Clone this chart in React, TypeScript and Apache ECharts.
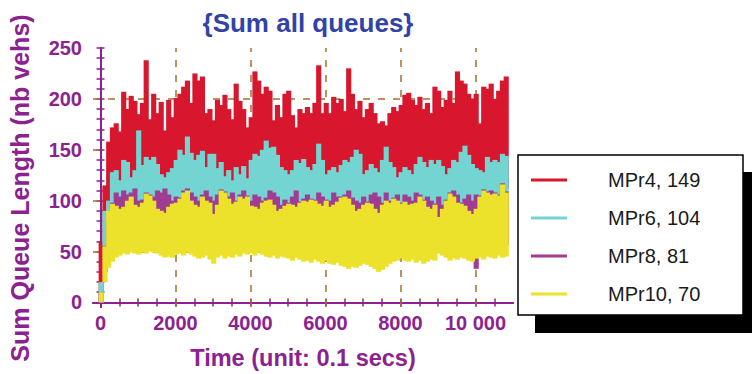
import React, { useEffect, useRef } from 'react';
import * as echarts from 'echarts';

// time step between consecutive readings (unit: 0.1 secs); each reading gives the band's top and bottom
const STEP = 100;

const seriesNames = ['MPr4, 149', 'MPr6, 104', 'MPr8, 81', 'MPr10, 70'];

const redHigh = [
  60, 115, 158, 172, 176, 168, 207, 190, 203, 198,
  185, 196, 238, 180, 205, 186, 197, 169, 199, 182,
  201, 205, 212, 218, 196, 225, 218, 222, 186, 190,
  179, 199, 194, 204, 190, 180, 215, 198, 190, 172,
  182, 227, 218, 205, 212, 208, 179, 194, 182, 205,
  208, 184, 172, 190, 186, 192, 186, 196, 233, 186,
  196, 186, 202, 196, 200, 188, 230, 205, 190, 198,
  182, 190, 196, 186, 176, 178, 174, 186, 192, 188,
  194, 204, 206, 199, 194, 202, 190, 196, 186, 212,
  208, 192, 199, 208, 196, 227, 218, 215, 205, 200,
  205, 176, 212, 210, 215, 200, 208, 218, 222,
];
const redLow = [
  0, 40, 80, 100, 105, 104, 108, 106, 104, 110,
  108, 106, 110, 109, 105, 112, 108, 104, 110, 106,
  110, 112, 108, 114, 112, 110, 113, 111, 106, 112,
  110, 106, 110, 108, 104, 106, 109, 105, 108, 104,
  110, 112, 110, 114, 116, 113, 112, 108, 106, 108,
  104, 106, 110, 108, 112, 106, 105, 110, 113, 108,
  104, 106, 108, 105, 110, 112, 110, 112, 115, 113,
  104, 106, 110, 108, 105, 112, 115, 110, 106, 104,
  105, 108, 106, 104, 110, 113, 110, 106, 112, 108,
  112, 108, 104, 106, 112, 110, 115, 116, 113, 108,
  106, 105, 104, 112, 110, 112, 110, 114, 112,
];
const cyanHigh = [
  20, 90, 100, 128, 130, 120, 140, 138, 123, 130,
  169, 135, 143, 140, 143, 136, 126, 123, 128, 132,
  140, 150, 145, 163, 147, 140, 145, 149, 133, 146,
  146, 132, 138, 124, 130, 120, 133, 126, 134, 122,
  140, 146, 144, 150, 159, 152, 153, 145, 133, 130,
  126, 130, 140, 137, 141, 133, 130, 136, 156, 140,
  126, 130, 133, 128, 135, 140, 138, 143, 150, 146,
  126, 130, 136, 132, 128, 140, 153, 138, 133, 123,
  128, 133, 130, 126, 136, 143, 138, 133, 140, 136,
  140, 134, 126, 132, 140, 138, 148, 154, 145, 136,
  132, 130, 128, 143, 138, 140, 138, 146, 144,
];
const cyanLow = [
  0, 55, 75, 88, 92, 90, 95, 93, 90, 96,
  92, 90, 95, 92, 89, 94, 91, 88, 93, 92,
  95, 97, 92, 98, 94, 91, 96, 93, 90, 94,
  92, 89, 93, 90, 88, 92, 94, 90, 92, 89,
  93, 96, 94, 97, 99, 95, 93, 92, 89, 91,
  88, 92, 94, 92, 95, 91, 89, 92, 96, 92,
  88, 91, 92, 90, 93, 95, 94, 96, 98, 95,
  89, 92, 93, 91, 88, 94, 97, 93, 91, 88,
  89, 92, 91, 88, 93, 96, 94, 91, 95, 92,
  95, 92, 88, 91, 94, 93, 97, 99, 95, 92,
  91, 89, 88, 95, 93, 94, 93, 97, 95,
];
const purpleHigh = [
  10, 55, 80, 98, 108, 104, 110, 106, 108, 112,
  100, 101, 108, 106, 104, 110, 108, 112, 106, 100,
  104, 103, 110, 112, 108, 104, 100, 106, 110, 104,
  100, 106, 111, 109, 104, 108, 100, 106, 110, 105,
  100, 106, 104, 100, 103, 110, 108, 104, 96, 101,
  98, 104, 110, 99, 102, 106, 102, 101, 108, 104,
  101, 100, 108, 104, 104, 106, 110, 103, 100, 98,
  104, 99, 106, 108, 104, 98, 108, 100, 103, 106,
  98, 106, 104, 100, 108, 106, 101, 104, 100, 97,
  104, 96, 101, 108, 110, 106, 98, 102, 106, 100,
  106, 105, 111, 109, 110, 108, 106, 117, 109,
];
const purpleLow = [
  0, 30, 50, 55, 58, 56, 60, 57, 55, 58,
  56, 59, 57, 55, 58, 56, 54, 52, 55, 53,
  50, 55, 57, 56, 54, 58, 56, 55, 57, 52,
  55, 57, 54, 56, 58, 55, 57, 54, 56, 58,
  55, 53, 56, 58, 55, 57, 54, 56, 55, 57,
  56, 54, 57, 55, 53, 56, 58, 55, 54, 56,
  52, 55, 53, 51, 54, 52, 55, 53, 54, 56,
  54, 52, 50, 53, 48, 55, 53, 56, 54, 57,
  55, 57, 54, 56, 55, 53, 56, 54, 55, 57,
  54, 56, 55, 53, 56, 54, 55, 53, 56, 54,
  33, 52, 55, 54, 56, 53, 55, 54, 56,
];
const yellowHigh = [
  10, 55, 90, 97, 95, 92, 94, 100, 104, 96,
  94, 98, 107, 105, 100, 92, 90, 88, 94, 97,
  98, 102, 108, 110, 100, 96, 94, 104, 100, 98,
  87, 96, 110, 108, 102, 97, 99, 104, 102, 104,
  95, 94, 92, 98, 100, 101, 96, 90, 92, 95,
  97, 96, 94, 98, 100, 99, 101, 100, 97, 95,
  100, 94, 96, 99, 103, 104, 102, 96, 90, 92,
  96, 98, 97, 92, 88, 96, 100, 98, 102, 100,
  97, 99, 96, 97, 98, 104, 100, 94, 92, 96,
  84, 92, 100, 107, 104, 98, 97, 95, 90, 87,
  92, 104, 110, 108, 106, 107, 105, 116, 108,
];
const yellowLow = [
  0, 20, 34, 40, 44, 46, 48, 47, 49, 48,
  47, 49, 48, 50, 49, 48, 46, 44, 45, 44,
  47, 48, 46, 49, 47, 45, 43, 44, 46, 42,
  38, 44, 46, 43, 45, 44, 47, 45, 48, 47,
  48, 46, 49, 47, 45, 44, 46, 43, 45, 44,
  43, 41, 44, 42, 40, 41, 39, 42, 40, 38,
  41, 38, 37, 39, 36, 35, 33, 35, 34, 36,
  38, 37, 35, 33, 30, 32, 35, 38, 40, 41,
  43, 41, 40, 42, 39, 41, 38, 40, 42, 41,
  48, 46, 44, 41, 43, 42, 44, 43, 41, 40,
  43, 44, 42, 45, 44, 43, 46, 44, 45,
];

const xLabelValues = [0, 2000, 4000, 6000, 8000, 10000];
const yLabelValues = [0, 50, 100, 150, 200, 250];
const xGridValues = [2000, 4000, 6000, 8000, 10000];
const yGridValues = [50, 100, 150, 200];
const xTickValues: number[] = [];
for (let v = 0; v <= 10500; v += 500) xTickValues.push(v);
const yTickValues: number[] = [];
for (let v = 0; v <= 250; v += 10) yTickValues.push(v);

const colors = ['#D8172F', '#74D4D2', '#A03C94', '#ECE12B'];
const PURPLE = '#8B2290';
const FONT = '"Liberation Sans", Arial, Helvetica, sans-serif';

export default function App() {
  const ref = useRef<HTMLDivElement>(null);
  useEffect(() => {
    const chart = echarts.init(ref.current!, null, { renderer: 'svg' });
    const highs = [redHigh, cyanHigh, purpleHigh, yellowHigh];
    const lows = [redLow, cyanLow, purpleLow, yellowLow];
    const axisLine = { show: true, lineStyle: { color: PURPLE, width: 2 } };
    const tickStyle = { color: PURPLE, width: 1.5 };
    const labelStyle = { color: PURPLE, fontSize: 20, fontWeight: 'bold', fontFamily: FONT };

    const bandSeries = seriesNames.map((name, k) => ({
      name,
      type: 'custom',
      xAxisIndex: 0,
      yAxisIndex: 0,
      z: 2 + k,
      clip: true,
      silent: true,
      itemStyle: { color: colors[k] },
      encode: { x: 0, y: [1, 2] },
      data: highs[k].map((h, i) => [i * STEP, lows[k][i], h]),
      renderItem: (params: any, api: any) => {
        const t = api.value(0);
        const lo = api.value(1);
        const hi = api.value(2);
        const p1 = api.coord([t - STEP / 2, hi]);
        const p2 = api.coord([t + STEP / 2, lo]);
        return {
          type: 'rect',
          shape: { x: p1[0], y: p1[1], width: p2[0] - p1[0] + 1.4, height: p2[1] - p1[1] },
          style: { fill: colors[k] },
        };
      },
    }));

    chart.setOption({
      animation: false,
      backgroundColor: '#ffffff',
      title: {
        text: '{Sum all queues}',
        left: 303,
        top: 5,
        textAlign: 'center',
        textStyle: { color: '#3142A8', fontSize: 26, fontWeight: 'bold', fontFamily: FONT },
      },
      grid: { left: 93, right: 239, top: 48, bottom: 67 },
      legend: {
        data: seriesNames,
        orient: 'vertical',
        left: 531,
        top: 170,
        padding: 0,
        icon: 'rect',
        itemWidth: 36,
        itemHeight: 3,
        itemGap: 18,
        selectedMode: false,
        z: 20,
        textStyle: {
          color: '#1a1a1a',
          fontSize: 20,
          lineHeight: 20,
          fontFamily: FONT,
          padding: [0, 0, 0, 36],
        },
      },
      xAxis: [
        {
          type: 'value',
          min: -200,
          max: 11000,
          position: 'bottom',
          axisLine,
          axisTick: { show: true, inside: true, length: 4, customValues: xTickValues, lineStyle: tickStyle },
          axisLabel: {
            ...labelStyle,
            margin: 6,
            customValues: xLabelValues,
            formatter: (v: number) => (v >= 10000 ? '10 000' : String(v)),
          },
          splitLine: { show: false },
        },
        {
          type: 'value',
          min: -200,
          max: 11000,
          position: 'top',
          axisLine,
          axisTick: { show: true, inside: true, length: 4, customValues: xTickValues, lineStyle: tickStyle },
          axisLabel: { show: false },
          splitLine: { show: false },
        },
      ],
      yAxis: [
        {
          type: 'value',
          min: -4.5,
          max: 250,
          position: 'left',
          axisLine,
          axisTick: { show: true, inside: true, length: 4, customValues: yTickValues, lineStyle: tickStyle },
          axisLabel: { ...labelStyle, margin: 11, customValues: yLabelValues },
          splitLine: { show: false },
        },
        {
          type: 'value',
          min: -4.5,
          max: 250,
          position: 'right',
          axisLine,
          axisTick: { show: true, inside: true, length: 4, customValues: yTickValues, lineStyle: tickStyle },
          axisLabel: { show: false },
          splitLine: { show: false },
        },
      ],
      graphic: [
        {
          type: 'text',
          x: 303,
          y: 358,
          style: {
            text: 'Time (unit: 0.1 secs)',
            fill: PURPLE,
            fontSize: 23.5,
            fontWeight: 'bold',
            fontFamily: FONT,
            textAlign: 'center',
            textVerticalAlign: 'middle',
          },
        },
        {
          type: 'text',
          x: 20,
          y: 188,
          rotation: Math.PI / 2,
          style: {
            text: 'Sum Queue Length (nb vehs)',
            fill: PURPLE,
            fontSize: 25,
            fontWeight: 'bold',
            fontFamily: FONT,
            textAlign: 'center',
            textVerticalAlign: 'middle',
          },
        },
        { type: 'rect', z: 10, shape: { x: 535, y: 172, width: 240, height: 161 }, style: { fill: '#000' } },
        {
          type: 'rect',
          z: 11,
          shape: { x: 518, y: 155, width: 225, height: 160 },
          style: { fill: '#fff', stroke: '#000', lineWidth: 1.5 },
        },
      ],
      series: [
        {
          name: 'grid',
          type: 'line',
          data: [],
          z: 1,
          xAxisIndex: 0,
          yAxisIndex: 0,
          markLine: {
            silent: true,
            z: 1,
            symbol: ['none', 'none'],
            label: { show: false },
            lineStyle: { color: '#A66F2E', width: 1.5, type: [7, 8] },
            data: [
              ...xGridValues.map((v) => ({ xAxis: v })),
              ...yGridValues.map((v) => ({ yAxis: v })),
            ],
          },
        },
        ...bandSeries,
      ],
    });
    return () => chart.dispose();
  }, []);
  return <div ref={ref} style={{ position: 'fixed', left: 0, top: 0, width: 752, height: 374 }} />;
}
